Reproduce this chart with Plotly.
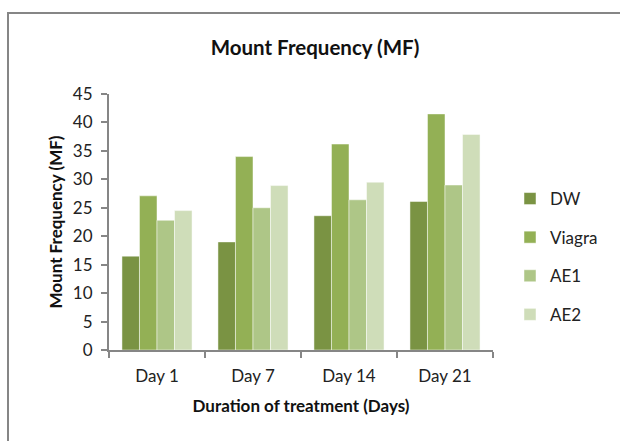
import plotly.graph_objects as go

categories = ["Day 1", "Day 7", "Day 14", "Day 21"]
dw = [16.5, 19.0, 23.6, 26.1]
viagra = [27.1, 34.0, 36.2, 41.5]
ae1 = [22.8, 25.0, 26.4, 29.0]
ae2 = [24.5, 28.9, 29.5, 37.9]

series = [("DW", dw, "#7A9343"), ("Viagra", viagra, "#93B055"),
          ("AE1", ae1, "#AEC687"), ("AE2", ae2, "#CFDDB9")]

FONT = "Lato, 'Open Sans', sans-serif"

fig = go.Figure()
for name, vals, col in series:
    fig.add_trace(go.Bar(x=categories, y=vals, name=name, legendgroup=name,
                         marker=dict(color=col, line=dict(color="rgba(255,255,255,0.6)", width=0.8))))

L, R, T, B = 109, 127, 94, 91
W, H = 620, 441
pw, ph = W - L - R, H - T - B

def px(x):
    return (x - L) / pw

def py(y):
    return (H - B - y) / ph

fig.update_layout(
    width=W, height=H,
    margin=dict(l=L, r=R, t=T, b=B),
    paper_bgcolor="white", plot_bgcolor="white",
    barmode="group", bargap=0.27, bargroupgap=0,
    font=dict(family=FONT, size=17, color="#222"),
    title=dict(text="<b>Mount Frequency (MF)</b>", x=px(315), xref="paper", xanchor="center",
               y=1 - 48 / H, yanchor="middle", font=dict(size=20.5, color="#111")),
    xaxis=dict(showline=True, linecolor="#868686", linewidth=2, ticks="outside",
               tickson="boundaries", ticklen=6, tickwidth=2, tickcolor="#868686",
               tickfont=dict(size=17, color="#222"), ticklabelstandoff=10,
               title=dict(text="<b>Duration of treatment (Days)</b>", font=dict(size=17, color="#111"), standoff=15)),
    yaxis=dict(range=[0, 45], dtick=5, showgrid=False, zeroline=False, showline=True,
               linecolor="#868686", linewidth=2, ticks="outside", ticklen=6, tickwidth=2,
               tickcolor="#868686", tickfont=dict(size=17, color="#222"), ticklabelstandoff=5,
               title=dict(text="<b>Mount Frequency (MF)</b>", font=dict(size=17, color="#111"), standoff=6)),
    legend=dict(x=px(510), xanchor="left", y=py(181), yanchor="top", traceorder="grouped",
                tracegroupgap=13.5, font=dict(size=17, color="#222"), bgcolor="rgba(0,0,0,0)"),
    showlegend=True,
)

fig.add_shape(type="rect", xref="paper", yref="paper",
              x0=px(8), x1=px(640), y0=py(470), y1=py(13),
              line=dict(color="#868686", width=2), fillcolor="rgba(0,0,0,0)", layer="below")

fig.write_html("out.html")
